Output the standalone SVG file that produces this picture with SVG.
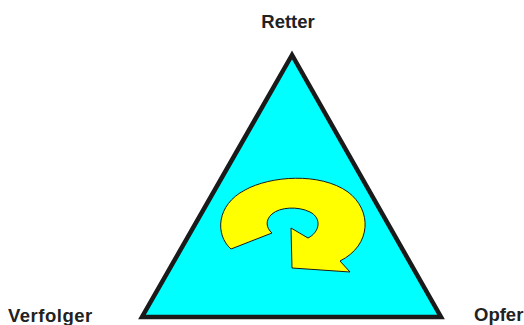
<svg xmlns="http://www.w3.org/2000/svg" width="524" height="325" viewBox="0 0 524 325">
<style>
.lbl{font-family:"Liberation Sans",Arial,sans-serif;font-weight:bold;font-size:18.5px;fill:#222}
</style>
<rect width="524" height="325" fill="#fff"/>
<g id="triangle">
<polygon points="292,55 142,317 441,317" fill="#00ffff" stroke="#1a1a1a" stroke-width="4.5" stroke-linejoin="miter"/>
</g>
<g id="cycle-arrow">
<path d="M231,249 C215,235 216,205 245,190 C270,176 320,172 348,192 C372,210 372,245 340,261 L350,272 L292,268 L291,228 L308,238 C320,232 322,218 310,212 C298,206 280,207 272,214 C265,220 266,228 272,233 Z" fill="#ffff00" stroke="#1a1a1a" stroke-width="1"/>
</g>
<g id="retter"><text class="lbl" x="288" y="28" text-anchor="middle">Retter</text></g>
<g id="verfolger"><text class="lbl" x="8" y="322" letter-spacing="0.5">Verfolger</text></g>
<g id="opfer"><text class="lbl" x="474" y="321">Opfer</text></g>
<g id="connectors"></g>
</svg>
